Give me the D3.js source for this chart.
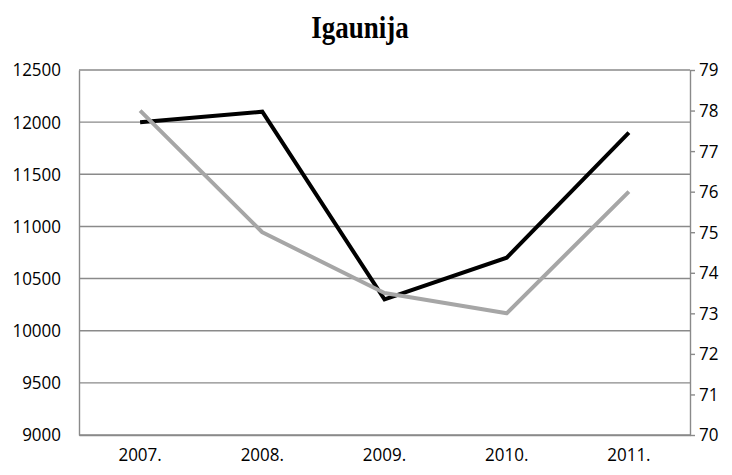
<!DOCTYPE html>
<html><head><meta charset="utf-8">
<script src="https://cdn.jsdelivr.net/npm/d3@7"></script>
<style>body{margin:0;background:#fff}svg{display:block}</style>
</head><body>
<svg id="c" width="732" height="475"></svg>
<script>
const title = "Igaunija";
const categories = ["2007.", "2008.", "2009.", "2010.", "2011."];
const leftSeries = [12000, 12100, 10300, 10700, 11900];
const rightSeries = [78, 75, 73.5, 73, 76];
const leftTicks = [9000, 9500, 10000, 10500, 11000, 11500, 12000, 12500];
const rightTicks = [70, 71, 72, 73, 74, 75, 76, 77, 78, 79];

const svg = d3.select("#c");
const m = {l: 79, r: 690, t: 70, b: 435};
const x = d3.scaleBand().domain(categories).range([m.l, m.r]);
const yL = d3.scaleLinear().domain([9000, 12500]).range([m.b, m.t]);
const yR = d3.scaleLinear().domain([70, 79]).range([m.b, m.t]);
const font = "'Open Sans', sans-serif";
const grid = "#8a8a8a";
const stretch = "scale(1,1.1)";

// gridlines
svg.append("g").selectAll("line").data(leftTicks).join("line")
  .attr("x1", m.l).attr("x2", m.r)
  .attr("y1", d => yL(d)).attr("y2", d => yL(d))
  .attr("stroke", grid).attr("stroke-width", 1.4);

// left axis
const gl = svg.append("g").attr("transform", `translate(${m.l},0)`)
  .call(d3.axisLeft(yL).tickValues(leftTicks).tickSize(0).tickPadding(18).tickFormat(d3.format("d")));
gl.select(".domain").attr("stroke", grid).attr("stroke-width", 1.4);
gl.selectAll("text").attr("font-family", font).attr("font-size", 17).attr("fill", "#000").attr("transform", stretch);

// right axis
const gr = svg.append("g").attr("transform", `translate(${m.r},0)`)
  .call(d3.axisRight(yR).tickValues(rightTicks).tickSize(5).tickSizeOuter(0).tickPadding(4));
gr.select(".domain").attr("stroke", grid).attr("stroke-width", 1.4);
gr.selectAll(".tick line").attr("stroke", grid).attr("stroke-width", 1.4);
gr.selectAll("text").attr("font-family", font).attr("font-size", 17).attr("fill", "#000").attr("transform", stretch);

// bottom axis
const gb = svg.append("g").attr("transform", `translate(0,${m.b})`)
  .call(d3.axisBottom(x).tickSize(0).tickPadding(12));
gb.select(".domain").attr("stroke", grid).attr("stroke-width", 1.4);
gb.selectAll("text").attr("font-family", font).attr("font-size", 17).attr("fill", "#000").attr("transform", stretch);

const cx = d => x(d) + x.bandwidth() / 2;
const lineL = d3.line().x((d, i) => cx(categories[i])).y(d => yL(d));
const lineR = d3.line().x((d, i) => cx(categories[i])).y(d => yR(d));

svg.append("path").datum(leftSeries).attr("d", lineL)
  .attr("fill", "none").attr("stroke", "#000").attr("stroke-width", 4).attr("stroke-linejoin", "miter");
svg.append("path").datum(rightSeries).attr("d", lineR)
  .attr("fill", "none").attr("stroke", "#a6a6a6").attr("stroke-width", 4).attr("stroke-linejoin", "round");

svg.append("text").text(title)
  .attr("transform", "translate(360,38) scale(1,1.17)").attr("text-anchor", "middle")
  .attr("font-family", "'Liberation Serif', 'Times New Roman', serif")
  .attr("font-weight", "bold").attr("font-size", 27);
</script>
</body></html>
